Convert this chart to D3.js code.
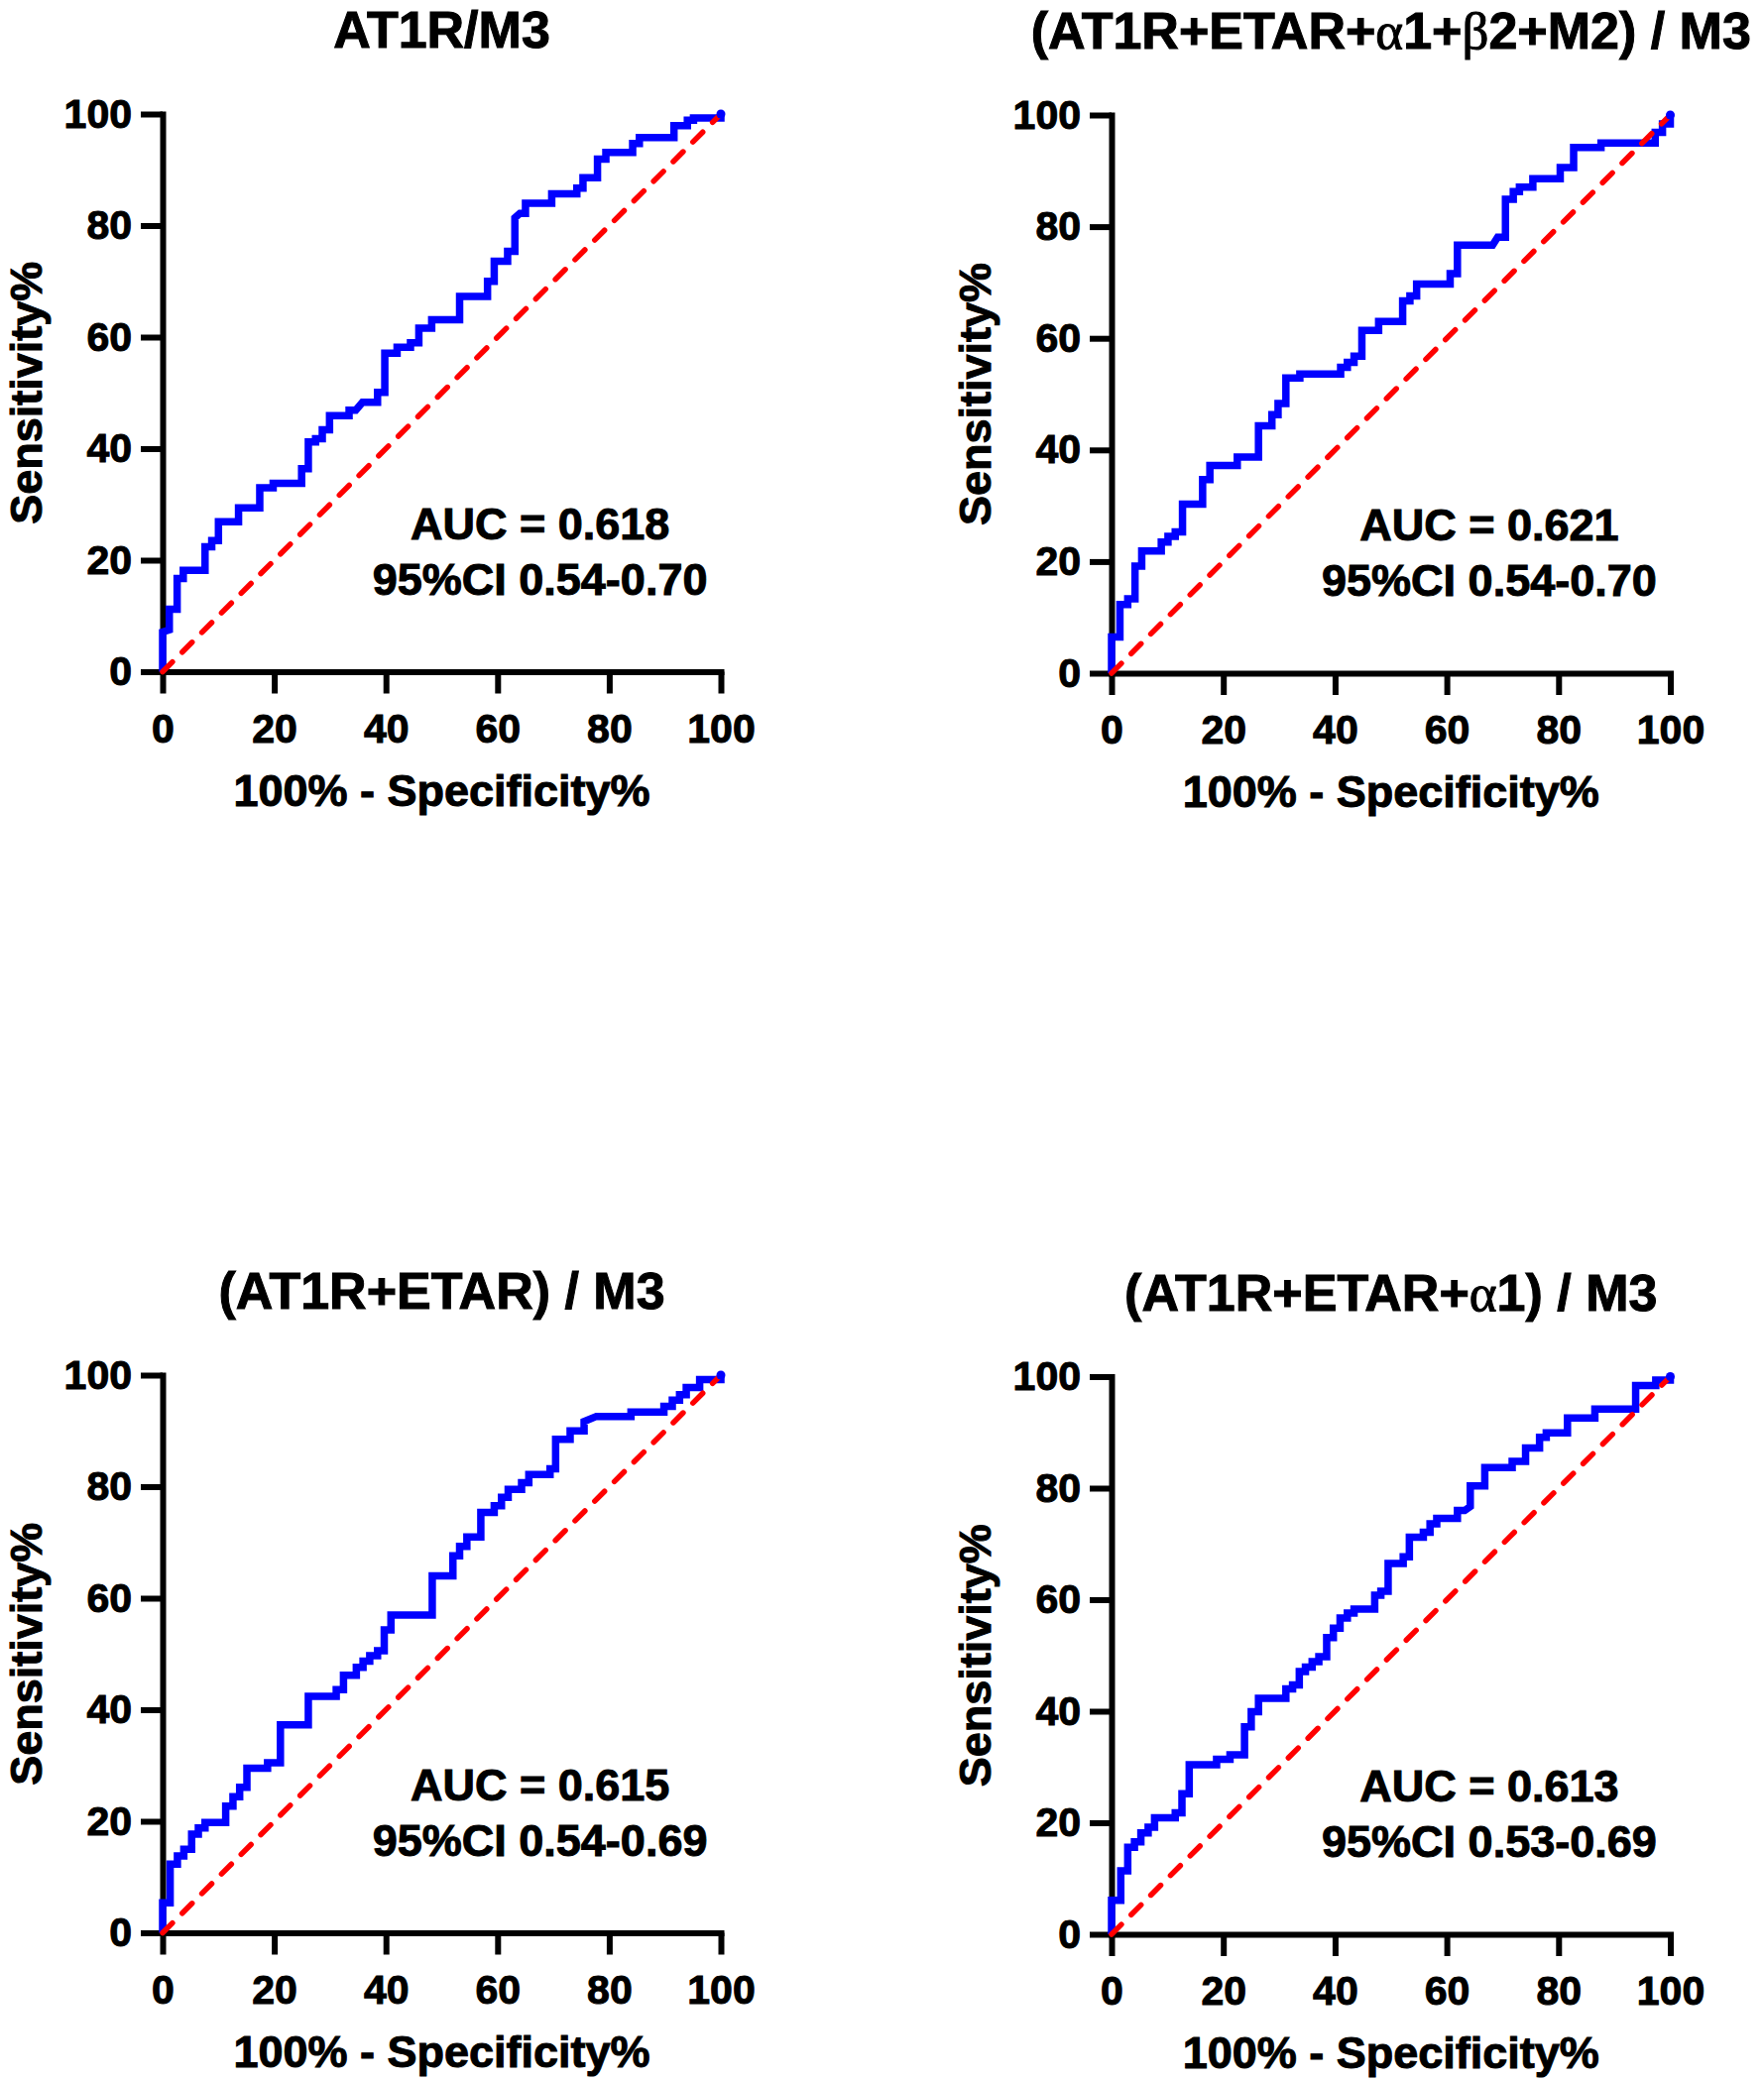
<!DOCTYPE html>
<html>
<head>
<meta charset="utf-8">
<script src="https://cdn.jsdelivr.net/npm/d3@7"></script>
<style>body{margin:0;background:#fff}</style>
</head>
<body>
<svg id="chart" width="1779" height="2100"></svg>
<script>
// ---------- data ----------
const tickValues = [0, 20, 40, 60, 80, 100];
const titles = ["AT1R/M3", "(AT1R+ETAR+α1+β2+M2) / M3", "(AT1R+ETAR) / M3", "(AT1R+ETAR+α1) / M3"];
const aucLabels = ["AUC = 0.618", "AUC = 0.621", "AUC = 0.615", "AUC = 0.613"];
const ciLabels = ["95%CI 0.54-0.70", "95%CI 0.54-0.70", "95%CI 0.54-0.69", "95%CI 0.53-0.69"];
const xTitle = "100% - Specificity%";
const yTitle = "Sensitivity%";
const refLine = [[0, 0], [100, 100]];

const rocAT1R = [[0,0],[0,7.1],[1.2,7.5],[1.2,11.2],[2.6,11.2],[2.6,16.7],[3.7,16.7],[3.7,18.2],[7.6,18.2],[7.6,22.4],[8.8,22.4],[8.8,23.5],[10,23.5],[10,26.9],[13.6,26.9],[13.6,29.4],[17.4,29.4],[17.4,33],[19.8,33],[19.8,33.8],[24.9,33.8],[24.9,36.4],[26.1,36.4],[26.1,41.2],[27.4,41.2],[27.4,41.8],[28.6,41.8],[28.6,43.4],[29.9,43.4],[29.9,45.9],[33.4,45.9],[33.4,46.9],[34.6,46.9],[35.8,48.3],[38.5,48.3],[38.5,50.1],[39.8,50.1],[39.8,57.1],[42,57.1],[42,58.2],[44.4,58.2],[44.4,59],[45.9,59],[45.9,61.6],[48.2,61.6],[48.2,63.1],[53.2,63.1],[53.2,67.3],[58.2,67.3],[58.2,70],[59.4,70],[59.4,73.6],[61.8,73.6],[61.8,75.4],[63.1,75.4],[63.1,81.4],[64,82.2],[65,82.2],[65,84],[69.7,84],[69.7,85.7],[74.2,85.7],[74.2,86.7],[75.3,86.7],[75.3,88.6],[77.9,88.6],[77.9,91.9],[79.4,91.9],[79.4,93.1],[84.2,93.1],[84.2,94.7],[85.4,94.7],[85.4,95.8],[91.6,95.8],[91.6,97.9],[94,97.9],[94,98.9],[95.1,98.9],[95.1,99.3],[100,99.3],[100,100]];

const rocFive = [[0,0],[0,6.5],[1.5,6.5],[1.5,12.3],[2.9,12.3],[2.9,13.3],[4.2,13.3],[4.2,19.2],[5.4,19.2],[5.4,21.9],[8.9,21.9],[8.9,23.5],[10.1,23.5],[10.1,24.5],[11.4,24.5],[11.4,25.3],[12.7,25.3],[12.7,30.3],[16.3,30.3],[16.3,34.7],[17.6,34.7],[17.6,37.2],[22.5,37.2],[22.5,38.7],[26.3,38.7],[26.3,44.3],[28.7,44.3],[28.7,46.3],[29.8,46.3],[29.8,48.3],[31.2,48.3],[31.2,52.9],[33.7,52.9],[33.7,53.6],[41,53.6],[41,54.8],[42.2,54.8],[42.2,55.7],[43.4,55.7],[43.4,56.8],[44.8,56.8],[44.8,61.4],[47.8,61.4],[47.8,63],[52.1,63],[52.1,66.7],[53.4,66.7],[53.4,67.6],[54.6,67.6],[54.6,69.7],[60.6,69.7],[60.6,71.6],[61.9,71.6],[61.9,76.7],[68.2,76.7],[69.1,78.1],[70.5,78.1],[70.5,84.9],[71.9,84.9],[71.9,86.3],[73,86.3],[73,87.1],[75.4,87.1],[75.4,88.6],[80.3,88.6],[80.3,90.6],[82.7,90.6],[82.7,94.2],[87.6,94.2],[87.6,95],[97.3,95],[97.3,96.9],[98.6,96.9],[98.6,98.4],[100,98.4],[100,100]];

const rocTwo = [[0,0],[0,5.4],[1.35,5.4],[1.35,12.3],[2.65,12.3],[2.65,13.8],[3.8,13.8],[3.8,15],[5.2,15],[5.2,17.7],[6.4,17.7],[6.4,18.8],[7.6,18.8],[7.6,19.8],[11.3,19.8],[11.3,22.7],[12.6,22.7],[12.6,24.4],[13.8,24.4],[13.8,26.1],[15.1,26.1],[15.1,29.5],[18.8,29.5],[18.8,30.5],[21.1,30.5],[21.1,37.3],[26.1,37.3],[26.1,42.4],[31.1,42.4],[31.1,43.6],[32.4,43.6],[32.4,46.2],[34.7,46.2],[34.7,47.6],[35.9,47.6],[35.9,48.7],[37.1,48.7],[37.1,49.7],[38.5,49.7],[38.5,50.6],[39.7,50.6],[39.7,54.3],[40.9,54.3],[40.9,57],[48.3,57],[48.3,64],[52,64],[52,67.6],[53.2,67.6],[53.2,69.3],[54.5,69.3],[54.5,71],[57,71],[57,75.4],[59.4,75.4],[59.4,76.6],[60.7,76.6],[60.7,78.1],[61.9,78.1],[61.9,79.5],[64.3,79.5],[64.3,80.7],[65.6,80.7],[65.6,82.2],[69.4,82.2],[69.4,83.2],[70.4,83.2],[70.4,88.5],[73,88.5],[73,90],[75.5,90],[75.5,91.7],[77.7,92.6],[83.9,92.6],[83.9,93.4],[89.8,93.4],[89.8,94.4],[91.3,94.4],[91.3,95.5],[92.6,95.5],[92.6,96.5],[93.8,96.5],[93.8,97.8],[96.2,97.8],[96.2,99.2],[100,99.2],[100,100]];

const rocThree = [[0,0],[0,6.1],[1.65,6.1],[1.65,11.4],[2.9,11.4],[2.9,15.6],[4.1,15.6],[4.1,16.6],[5.25,16.6],[5.25,18.2],[6.55,18.2],[6.55,19.2],[7.7,19.2],[7.7,20.9],[11.4,20.9],[11.4,21.8],[12.6,21.8],[12.6,25.2],[13.9,25.2],[13.9,30.4],[18.8,30.4],[18.8,31.4],[21.2,31.4],[21.2,32.2],[23.8,32.2],[23.8,37.2],[25,37.2],[25,39.9],[26.3,39.9],[26.3,42.3],[31.2,42.3],[31.2,44],[32.4,44],[32.4,44.7],[33.6,44.7],[33.6,47.1],[34.7,47.1],[34.7,47.9],[35.9,47.9],[35.9,48.9],[37.1,48.9],[37.1,49.8],[38.5,49.8],[38.5,53.2],[39.7,53.2],[39.7,54.9],[40.9,54.9],[40.9,56.7],[42.2,56.7],[42.2,57.6],[43.4,57.6],[43.4,58.3],[47.1,58.3],[47.1,60.8],[48.2,60.8],[48.2,61.5],[49.5,61.5],[49.5,66.5],[52.2,66.5],[52.2,67.7],[53.3,67.7],[53.3,71.2],[55.8,71.2],[55.8,72.1],[57,72.1],[57,73.6],[58.2,73.6],[58.2,74.6],[61.9,74.6],[61.9,76],[63.2,76],[64.2,76.7],[64.2,80.4],[66.8,80.4],[66.8,83.7],[71.7,83.7],[71.7,84.8],[74.1,84.8],[74.1,87.2],[76.6,87.2],[76.6,89.1],[77.8,89.1],[77.8,89.9],[81.6,89.9],[81.6,92.6],[86.5,92.6],[86.5,94.2],[93.8,94.2],[93.8,98.4],[97.4,98.4],[97.4,99.4],[100,99.4],[100,100]];

// ---------- layout ----------
const FONT = "'Liberation Sans', Arial, Helvetica, sans-serif";
const SERIF = "'Liberation Serif', 'Times New Roman', serif";
const layout = [
  { xr: [164, 727],     yr: [677.5, 115]    },
  { xr: [1121, 1684.5], yr: [679, 116]      },
  { xr: [164, 727],     yr: [1949.5, 1387]  },
  { xr: [1121, 1684.5], yr: [1951, 1388.5]  }
];
const rocs = [rocAT1R, rocFive, rocTwo, rocThree];

const svg = d3.select("#chart");
svg.append("rect").attr("width", 1779).attr("height", 2100).attr("fill", "#fff");

function boldText(sel, size) {
  return sel.attr("font-size", size).attr("font-weight", "bold").attr("font-family", FONT)
    .attr("fill", "#000").attr("stroke", "#000").attr("stroke-width", 1).attr("paint-order", "stroke");
}

rocs.forEach((roc, i) => {
  const L = layout[i];
  const x = d3.scaleLinear().domain([0, 100]).range(L.xr);
  const y = d3.scaleLinear().domain([0, 100]).range(L.yr);
  const g = svg.append("g");

  const gx = g.append("g").attr("transform", `translate(0,${y(0)})`)
    .call(d3.axisBottom(x).tickValues(tickValues).tickSize(22).tickSizeOuter(0).tickPadding(20));
  const gy = g.append("g").attr("transform", `translate(${x(0)},0)`)
    .call(d3.axisLeft(y).tickValues(tickValues).tickSize(22).tickSizeOuter(0).tickPadding(9));
  [gx, gy].forEach(a => {
    a.selectAll("line").attr("stroke", "#000").attr("stroke-width", 6);
    a.select(".domain").attr("stroke", "#000").attr("stroke-width", 6).attr("stroke-linecap", "square");
    boldText(a.selectAll("text"), 41);
  });

  // ROC curve
  const line = d3.line().x(d => x(d[0])).y(d => y(d[1]));
  g.append("path").datum(roc).attr("d", line)
    .attr("fill", "none").attr("stroke", "#0000ff").attr("stroke-width", 7.5)
    .attr("stroke-linejoin", "miter").attr("stroke-linecap", "butt");

  // reference line
  g.append("path").datum(refLine).attr("d", line)
    .attr("fill", "none").attr("stroke", "#ff0000").attr("stroke-width", 5.5)
    .attr("stroke-dasharray", "14 14").attr("stroke-linecap", "round");

  // end point marker
  const last = roc[roc.length - 1];
  g.append("circle").attr("cx", x(last[0])).attr("cy", y(last[1])).attr("r", 4.5).attr("fill", "#0000ff");

  // title
  const t = boldText(g.append("text"), 52)
    .attr("x", (L.xr[0] + L.xr[1]) / 2).attr("y", y(100) - 67)
    .attr("text-anchor", "middle");
  titles[i].split(/([αβ])/).forEach(s => {
    if (!s) return;
    const ts = t.append("tspan").text(s);
    if (/[αβ]/.test(s)) ts.attr("font-family", SERIF).attr("font-weight", "normal").attr("font-size", 53);
  });

  // axis titles
  boldText(g.append("text"), 45)
    .attr("x", (L.xr[0] + L.xr[1]) / 2).attr("y", y(0) + 135)
    .attr("text-anchor", "middle").text(xTitle);
  boldText(g.append("text"), 45)
    .attr("transform", `translate(${x(0) - 122},${(y(0) + y(100)) / 2}) rotate(-90)`)
    .attr("text-anchor", "middle").text(yTitle);

  // AUC annotation
  boldText(g.append("text"), 45)
    .attr("x", x(67.6)).attr("y", y(23.8))
    .attr("text-anchor", "middle").text(aucLabels[i]);
  boldText(g.append("text"), 45)
    .attr("x", x(67.6)).attr("y", y(13.8))
    .attr("text-anchor", "middle").text(ciLabels[i]);
});
</script>
</body>
</html>
